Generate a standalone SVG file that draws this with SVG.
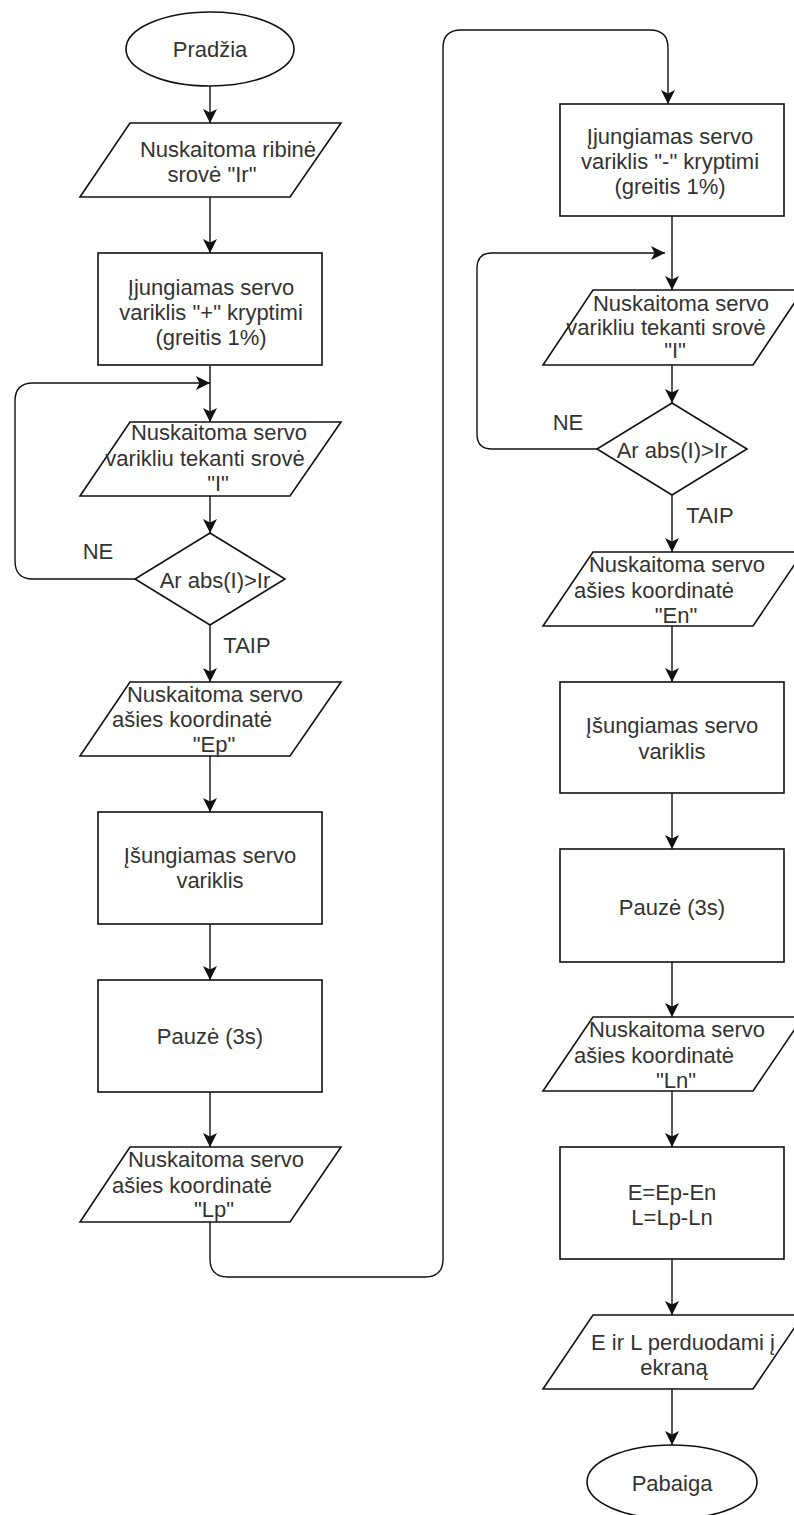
<svg xmlns="http://www.w3.org/2000/svg" width="794" height="1515" viewBox="0 0 794 1515">
<style>
.s{fill:#fff;stroke:#111;stroke-width:1.6}
.c{fill:none;stroke:#111;stroke-width:1.4}
text{font-family:"Liberation Sans",Arial,sans-serif;font-size:22px;fill:#333;text-anchor:middle}
</style>
<defs>
<marker id="a" markerUnits="userSpaceOnUse" markerWidth="16" markerHeight="16" refX="14" refY="7" orient="auto">
<path d="M0,0 L14,7 L0,14 L3.5,7 Z" fill="#111"/>
</marker>
</defs>
<rect width="794" height="1515" fill="#fff"/>
<g id="connectors">
<path class="c" marker-end="url(#a)" d="M210,86 V123"/>
<path class="c" marker-end="url(#a)" d="M210,197 V253"/>
<path class="c" marker-end="url(#a)" d="M210,365 V422"/>
<path class="c" marker-end="url(#a)" d="M210,495 V533"/>
<path class="c" marker-end="url(#a)" d="M210,625 V682"/>
<path class="c" marker-end="url(#a)" d="M210,755 V812"/>
<path class="c" marker-end="url(#a)" d="M210,924 V980"/>
<path class="c" marker-end="url(#a)" d="M210,1092 V1147"/>
<path class="c" marker-end="url(#a)" d="M135,579 H33 Q15,579 15,561 V401 Q15,383 33,383 H210"/>
<path class="c" marker-end="url(#a)" d="M210,1222 V1259 Q210,1277 228,1277 H425 Q443,1277 443,1259 V48 Q443,30 461,30 H650 Q668,30 668,48 V104"/>
<path class="c" marker-end="url(#a)" d="M672,216 V290"/>
<path class="c" marker-end="url(#a)" d="M672,365 V403"/>
<path class="c" marker-end="url(#a)" d="M672,495 V552"/>
<path class="c" marker-end="url(#a)" d="M672,626 V682"/>
<path class="c" marker-end="url(#a)" d="M672,793 V849"/>
<path class="c" marker-end="url(#a)" d="M672,962 V1017"/>
<path class="c" marker-end="url(#a)" d="M672,1091 V1147"/>
<path class="c" marker-end="url(#a)" d="M672,1259 V1315"/>
<path class="c" marker-end="url(#a)" d="M672,1389 V1445"/>
<path class="c" marker-end="url(#a)" d="M597,449 H492 Q477,449 477,434 V268 Q477,253 492,253 H665"/>
<text x="98" y="559">NE</text>
<text x="247" y="653">TAIP</text>
<text x="568" y="430">NE</text>
<text x="710" y="523">TAIP</text>
</g>
<g id="start">
<ellipse class="s" cx="210" cy="49" rx="84" ry="37"/>
<text x="210" y="57">Pradžia</text>
</g>
<g id="read-ir">
<polygon class="s" points="130,123 341,123 290,197 80,197"/>
<text x="228" y="157">Nuskaitoma ribinė</text>
<text x="212" y="182">srovė "Ir"</text>
</g>
<g id="motor-plus">
<rect class="s" x="98" y="253" width="224" height="112"/>
<text x="211" y="295">Įjungiamas servo</text>
<text x="211" y="320">variklis "+" kryptimi</text>
<text x="211" y="345">(greitis 1%)</text>
</g>
<g id="read-i-1">
<polygon class="s" points="130,422 341,422 290,496 80,496"/>
<text x="219" y="440">Nuskaitoma servo</text>
<text x="205" y="466">varikliu tekanti srovė</text>
<text x="218" y="491">"I"</text>
</g>
<g id="dec-1">
<polygon class="s" points="210,533 285,579 210,625 135,579"/>
<text x="215" y="588">Ar abs(I)&gt;Ir</text>
</g>
<g id="read-ep">
<polygon class="s" points="130,682 341,682 290,756 80,756"/>
<text x="215" y="702">Nuskaitoma servo</text>
<text x="192" y="727">ašies koordinatė</text>
<text x="214" y="752">"Ep"</text>
</g>
<g id="motor-off-1">
<rect class="s" x="98" y="812" width="224" height="112"/>
<text x="210" y="863">Įšungiamas servo</text>
<text x="210" y="888">variklis</text>
</g>
<g id="pause-1">
<rect class="s" x="98" y="980" width="224" height="112"/>
<text x="210" y="1044">Pauzė (3s)</text>
</g>
<g id="read-lp">
<polygon class="s" points="130,1147 341,1147 290,1222 80,1222"/>
<text x="216" y="1167">Nuskaitoma servo</text>
<text x="192" y="1193">ašies koordinatė</text>
<text x="214" y="1217">"Lp"</text>
</g>
<g id="motor-minus">
<rect class="s" x="560" y="104" width="224" height="112"/>
<text x="670" y="144">Įjungiamas servo</text>
<text x="670" y="169">variklis "-" kryptimi</text>
<text x="670" y="194">(greitis 1%)</text>
</g>
<g id="read-i-2">
<polygon class="s" points="593,290 803,290 753,365 543,365"/>
<text x="681" y="311">Nuskaitoma servo</text>
<text x="666" y="335">varikliu tekanti srovė</text>
<text x="675" y="358">"I"</text>
</g>
<g id="dec-2">
<polygon class="s" points="672,403 747,449 672,495 597,449"/>
<text x="672" y="458">Ar abs(I)&gt;Ir</text>
</g>
<g id="read-en">
<polygon class="s" points="593,552 803,552 753,626 543,626"/>
<text x="677" y="572">Nuskaitoma servo</text>
<text x="654" y="598">ašies koordinatė</text>
<text x="676" y="623">"En"</text>
</g>
<g id="motor-off-2">
<rect class="s" x="560" y="682" width="224" height="111"/>
<text x="672" y="733">Įšungiamas servo</text>
<text x="672" y="759">variklis</text>
</g>
<g id="pause-2">
<rect class="s" x="560" y="849" width="224" height="113"/>
<text x="672" y="915">Pauzė (3s)</text>
</g>
<g id="read-ln">
<polygon class="s" points="593,1017 803,1017 753,1091 543,1091"/>
<text x="677" y="1037">Nuskaitoma servo</text>
<text x="654" y="1063">ašies koordinatė</text>
<text x="676" y="1088">"Ln"</text>
</g>
<g id="calc">
<rect class="s" x="560" y="1147" width="224" height="112"/>
<text x="672" y="1200">E=Ep-En</text>
<text x="672" y="1225">L=Lp-Ln</text>
</g>
<g id="output">
<polygon class="s" points="593,1315 803,1315 753,1389 543,1389"/>
<text x="683" y="1350">E ir L perduodami į</text>
<text x="674" y="1375">ekraną</text>
</g>
<g id="end">
<ellipse class="s" cx="672" cy="1482" rx="85" ry="37"/>
<text x="672" y="1491">Pabaiga</text>
</g>
</svg>
